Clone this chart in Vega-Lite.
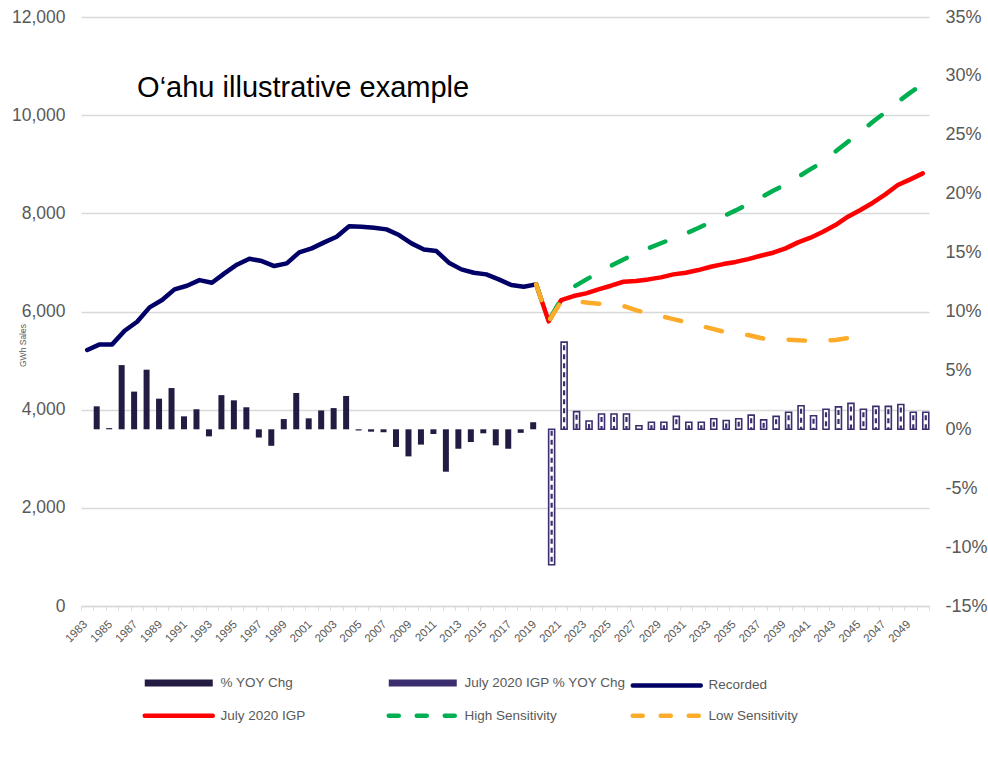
{
  "$schema": "https://vega.github.io/schema/vega-lite/v6.json",
  "width": 848,
  "height": 589,
  "autosize": "none",
  "padding": {"left": 81, "top": 17, "right": 59, "bottom": 175},
  "background": "white",
  "config": {
    "view": {"stroke": null},
    "font": "Liberation Sans",
    "axis": {"labelFont": "Liberation Sans", "titleFont": "Liberation Sans", "labelColor": "#595959"},
    "legend": {"labelFont": "Liberation Sans"}
  },
  "datasets": {
    "bars": [
      {"year": "1984", "series": "% YOY Chg", "pct": 0.0195},
      {"year": "1985", "series": "% YOY Chg", "pct": 0.001},
      {"year": "1986", "series": "% YOY Chg", "pct": 0.0545},
      {"year": "1987", "series": "% YOY Chg", "pct": 0.032},
      {"year": "1988", "series": "% YOY Chg", "pct": 0.0506},
      {"year": "1989", "series": "% YOY Chg", "pct": 0.026},
      {"year": "1990", "series": "% YOY Chg", "pct": 0.035},
      {"year": "1991", "series": "% YOY Chg", "pct": 0.011},
      {"year": "1992", "series": "% YOY Chg", "pct": 0.017},
      {"year": "1993", "series": "% YOY Chg", "pct": -0.006},
      {"year": "1994", "series": "% YOY Chg", "pct": 0.029},
      {"year": "1995", "series": "% YOY Chg", "pct": 0.0246},
      {"year": "1996", "series": "% YOY Chg", "pct": 0.0187},
      {"year": "1997", "series": "% YOY Chg", "pct": -0.007},
      {"year": "1998", "series": "% YOY Chg", "pct": -0.014},
      {"year": "1999", "series": "% YOY Chg", "pct": 0.0087},
      {"year": "2000", "series": "% YOY Chg", "pct": 0.0308},
      {"year": "2001", "series": "% YOY Chg", "pct": 0.0093},
      {"year": "2002", "series": "% YOY Chg", "pct": 0.016},
      {"year": "2003", "series": "% YOY Chg", "pct": 0.018},
      {"year": "2004", "series": "% YOY Chg", "pct": 0.0283},
      {"year": "2005", "series": "% YOY Chg", "pct": -0.001},
      {"year": "2006", "series": "% YOY Chg", "pct": -0.002},
      {"year": "2007", "series": "% YOY Chg", "pct": -0.0025},
      {"year": "2008", "series": "% YOY Chg", "pct": -0.015},
      {"year": "2009", "series": "% YOY Chg", "pct": -0.023},
      {"year": "2010", "series": "% YOY Chg", "pct": -0.013},
      {"year": "2011", "series": "% YOY Chg", "pct": -0.004},
      {"year": "2012", "series": "% YOY Chg", "pct": -0.036},
      {"year": "2013", "series": "% YOY Chg", "pct": -0.0165},
      {"year": "2014", "series": "% YOY Chg", "pct": -0.0108},
      {"year": "2015", "series": "% YOY Chg", "pct": -0.0034},
      {"year": "2016", "series": "% YOY Chg", "pct": -0.0136},
      {"year": "2017", "series": "% YOY Chg", "pct": -0.0165},
      {"year": "2018", "series": "% YOY Chg", "pct": -0.003},
      {"year": "2019", "series": "% YOY Chg", "pct": 0.006},
      {"year": "2020", "series": "July 2020 IGP % YOY Chg", "pct": -0.115},
      {"year": "2021", "series": "July 2020 IGP % YOY Chg", "pct": 0.074},
      {"year": "2022", "series": "July 2020 IGP % YOY Chg", "pct": 0.015},
      {"year": "2023", "series": "July 2020 IGP % YOY Chg", "pct": 0.007},
      {"year": "2024", "series": "July 2020 IGP % YOY Chg", "pct": 0.013},
      {"year": "2025", "series": "July 2020 IGP % YOY Chg", "pct": 0.013},
      {"year": "2026", "series": "July 2020 IGP % YOY Chg", "pct": 0.013},
      {"year": "2027", "series": "July 2020 IGP % YOY Chg", "pct": 0.003},
      {"year": "2028", "series": "July 2020 IGP % YOY Chg", "pct": 0.006},
      {"year": "2029", "series": "July 2020 IGP % YOY Chg", "pct": 0.006},
      {"year": "2030", "series": "July 2020 IGP % YOY Chg", "pct": 0.011},
      {"year": "2031", "series": "July 2020 IGP % YOY Chg", "pct": 0.006},
      {"year": "2032", "series": "July 2020 IGP % YOY Chg", "pct": 0.006},
      {"year": "2033", "series": "July 2020 IGP % YOY Chg", "pct": 0.009},
      {"year": "2034", "series": "July 2020 IGP % YOY Chg", "pct": 0.0075},
      {"year": "2035", "series": "July 2020 IGP % YOY Chg", "pct": 0.009},
      {"year": "2036", "series": "July 2020 IGP % YOY Chg", "pct": 0.012},
      {"year": "2037", "series": "July 2020 IGP % YOY Chg", "pct": 0.008},
      {"year": "2038", "series": "July 2020 IGP % YOY Chg", "pct": 0.011},
      {"year": "2039", "series": "July 2020 IGP % YOY Chg", "pct": 0.0145},
      {"year": "2040", "series": "July 2020 IGP % YOY Chg", "pct": 0.02},
      {"year": "2041", "series": "July 2020 IGP % YOY Chg", "pct": 0.0115},
      {"year": "2042", "series": "July 2020 IGP % YOY Chg", "pct": 0.017},
      {"year": "2043", "series": "July 2020 IGP % YOY Chg", "pct": 0.019},
      {"year": "2044", "series": "July 2020 IGP % YOY Chg", "pct": 0.022},
      {"year": "2045", "series": "July 2020 IGP % YOY Chg", "pct": 0.017},
      {"year": "2046", "series": "July 2020 IGP % YOY Chg", "pct": 0.0195},
      {"year": "2047", "series": "July 2020 IGP % YOY Chg", "pct": 0.0195},
      {"year": "2048", "series": "July 2020 IGP % YOY Chg", "pct": 0.021},
      {"year": "2049", "series": "July 2020 IGP % YOY Chg", "pct": 0.0145},
      {"year": "2050", "series": "July 2020 IGP % YOY Chg", "pct": 0.0145}
    ],
    "lines": [
      {"year": "1983", "series": "Recorded", "gwh": 5215},
      {"year": "1984", "series": "Recorded", "gwh": 5330},
      {"year": "1985", "series": "Recorded", "gwh": 5330},
      {"year": "1986", "series": "Recorded", "gwh": 5608},
      {"year": "1987", "series": "Recorded", "gwh": 5791},
      {"year": "1988", "series": "Recorded", "gwh": 6084},
      {"year": "1989", "series": "Recorded", "gwh": 6233},
      {"year": "1990", "series": "Recorded", "gwh": 6451},
      {"year": "1991", "series": "Recorded", "gwh": 6525},
      {"year": "1992", "series": "Recorded", "gwh": 6640},
      {"year": "1993", "series": "Recorded", "gwh": 6586},
      {"year": "1994", "series": "Recorded", "gwh": 6777},
      {"year": "1995", "series": "Recorded", "gwh": 6953},
      {"year": "1996", "series": "Recorded", "gwh": 7075},
      {"year": "1997", "series": "Recorded", "gwh": 7028},
      {"year": "1998", "series": "Recorded", "gwh": 6926},
      {"year": "1999", "series": "Recorded", "gwh": 6981},
      {"year": "2000", "series": "Recorded", "gwh": 7205},
      {"year": "2001", "series": "Recorded", "gwh": 7286},
      {"year": "2002", "series": "Recorded", "gwh": 7408},
      {"year": "2003", "series": "Recorded", "gwh": 7523},
      {"year": "2004", "series": "Recorded", "gwh": 7735},
      {"year": "2005", "series": "Recorded", "gwh": 7727},
      {"year": "2006", "series": "Recorded", "gwh": 7707},
      {"year": "2007", "series": "Recorded", "gwh": 7673},
      {"year": "2008", "series": "Recorded", "gwh": 7557},
      {"year": "2009", "series": "Recorded", "gwh": 7388},
      {"year": "2010", "series": "Recorded", "gwh": 7265},
      {"year": "2011", "series": "Recorded", "gwh": 7231},
      {"year": "2012", "series": "Recorded", "gwh": 6994},
      {"year": "2013", "series": "Recorded", "gwh": 6858},
      {"year": "2014", "series": "Recorded", "gwh": 6790},
      {"year": "2015", "series": "Recorded", "gwh": 6756},
      {"year": "2016", "series": "Recorded", "gwh": 6654},
      {"year": "2017", "series": "Recorded", "gwh": 6539},
      {"year": "2018", "series": "Recorded", "gwh": 6505},
      {"year": "2019", "series": "Recorded", "gwh": 6553},
      {"year": "2019", "series": "July 2020 IGP", "gwh": 6553},
      {"year": "2020", "series": "July 2020 IGP", "gwh": 5800},
      {"year": "2021", "series": "July 2020 IGP", "gwh": 6233},
      {"year": "2022", "series": "July 2020 IGP", "gwh": 6315},
      {"year": "2023", "series": "July 2020 IGP", "gwh": 6369},
      {"year": "2024", "series": "July 2020 IGP", "gwh": 6451},
      {"year": "2025", "series": "July 2020 IGP", "gwh": 6525},
      {"year": "2026", "series": "July 2020 IGP", "gwh": 6606},
      {"year": "2027", "series": "July 2020 IGP", "gwh": 6620},
      {"year": "2028", "series": "July 2020 IGP", "gwh": 6654},
      {"year": "2029", "series": "July 2020 IGP", "gwh": 6695},
      {"year": "2030", "series": "July 2020 IGP", "gwh": 6756},
      {"year": "2031", "series": "July 2020 IGP", "gwh": 6790},
      {"year": "2032", "series": "July 2020 IGP", "gwh": 6844},
      {"year": "2033", "series": "July 2020 IGP", "gwh": 6912},
      {"year": "2034", "series": "July 2020 IGP", "gwh": 6966},
      {"year": "2035", "series": "July 2020 IGP", "gwh": 7010},
      {"year": "2036", "series": "July 2020 IGP", "gwh": 7068},
      {"year": "2037", "series": "July 2020 IGP", "gwh": 7136},
      {"year": "2038", "series": "July 2020 IGP", "gwh": 7197},
      {"year": "2039", "series": "July 2020 IGP", "gwh": 7286},
      {"year": "2040", "series": "July 2020 IGP", "gwh": 7408},
      {"year": "2041", "series": "July 2020 IGP", "gwh": 7503},
      {"year": "2042", "series": "July 2020 IGP", "gwh": 7625},
      {"year": "2043", "series": "July 2020 IGP", "gwh": 7761},
      {"year": "2044", "series": "July 2020 IGP", "gwh": 7931},
      {"year": "2045", "series": "July 2020 IGP", "gwh": 8067},
      {"year": "2046", "series": "July 2020 IGP", "gwh": 8216},
      {"year": "2047", "series": "July 2020 IGP", "gwh": 8387},
      {"year": "2048", "series": "July 2020 IGP", "gwh": 8576},
      {"year": "2049", "series": "July 2020 IGP", "gwh": 8692},
      {"year": "2050", "series": "July 2020 IGP", "gwh": 8814},
      {"year": "2019", "series": "High Sensitivity", "gwh": 6553},
      {"year": "2020", "series": "High Sensitivity", "gwh": 5800},
      {"year": "2021", "series": "High Sensitivity", "gwh": 6260},
      {"year": "2022", "series": "High Sensitivity", "gwh": 6500},
      {"year": "2023", "series": "High Sensitivity", "gwh": 6650},
      {"year": "2024", "series": "High Sensitivity", "gwh": 6790},
      {"year": "2025", "series": "High Sensitivity", "gwh": 6930},
      {"year": "2026", "series": "High Sensitivity", "gwh": 7060},
      {"year": "2027", "series": "High Sensitivity", "gwh": 7180},
      {"year": "2028", "series": "High Sensitivity", "gwh": 7290},
      {"year": "2029", "series": "High Sensitivity", "gwh": 7390},
      {"year": "2030", "series": "High Sensitivity", "gwh": 7490},
      {"year": "2031", "series": "High Sensitivity", "gwh": 7590},
      {"year": "2032", "series": "High Sensitivity", "gwh": 7700},
      {"year": "2033", "series": "High Sensitivity", "gwh": 7820},
      {"year": "2034", "series": "High Sensitivity", "gwh": 7940},
      {"year": "2035", "series": "High Sensitivity", "gwh": 8060},
      {"year": "2036", "series": "High Sensitivity", "gwh": 8190},
      {"year": "2037", "series": "High Sensitivity", "gwh": 8320},
      {"year": "2038", "series": "High Sensitivity", "gwh": 8460},
      {"year": "2039", "series": "High Sensitivity", "gwh": 8590},
      {"year": "2040", "series": "High Sensitivity", "gwh": 8740},
      {"year": "2041", "series": "High Sensitivity", "gwh": 8900},
      {"year": "2042", "series": "High Sensitivity", "gwh": 9050},
      {"year": "2043", "series": "High Sensitivity", "gwh": 9260},
      {"year": "2044", "series": "High Sensitivity", "gwh": 9460},
      {"year": "2045", "series": "High Sensitivity", "gwh": 9660},
      {"year": "2046", "series": "High Sensitivity", "gwh": 9865},
      {"year": "2047", "series": "High Sensitivity", "gwh": 10060},
      {"year": "2048", "series": "High Sensitivity", "gwh": 10270},
      {"year": "2049", "series": "High Sensitivity", "gwh": 10460},
      {"year": "2050", "series": "High Sensitivity", "gwh": 10630},
      {"year": "2019", "series": "Low Sensitivity", "gwh": 6553},
      {"year": "2020", "series": "Low Sensitivity", "gwh": 5800},
      {"year": "2021", "series": "Low Sensitivity", "gwh": 6200},
      {"year": "2022", "series": "Low Sensitivity", "gwh": 6210},
      {"year": "2023", "series": "Low Sensitivity", "gwh": 6185},
      {"year": "2024", "series": "Low Sensitivity", "gwh": 6160},
      {"year": "2025", "series": "Low Sensitivity", "gwh": 6135},
      {"year": "2026", "series": "Low Sensitivity", "gwh": 6111},
      {"year": "2027", "series": "Low Sensitivity", "gwh": 6030},
      {"year": "2028", "series": "Low Sensitivity", "gwh": 5955},
      {"year": "2029", "series": "Low Sensitivity", "gwh": 5905},
      {"year": "2030", "series": "Low Sensitivity", "gwh": 5845},
      {"year": "2031", "series": "Low Sensitivity", "gwh": 5785},
      {"year": "2032", "series": "Low Sensitivity", "gwh": 5720},
      {"year": "2033", "series": "Low Sensitivity", "gwh": 5655},
      {"year": "2034", "series": "Low Sensitivity", "gwh": 5590},
      {"year": "2035", "series": "Low Sensitivity", "gwh": 5552},
      {"year": "2036", "series": "Low Sensitivity", "gwh": 5520},
      {"year": "2037", "series": "Low Sensitivity", "gwh": 5460},
      {"year": "2038", "series": "Low Sensitivity", "gwh": 5418},
      {"year": "2039", "series": "Low Sensitivity", "gwh": 5428},
      {"year": "2040", "series": "Low Sensitivity", "gwh": 5415},
      {"year": "2041", "series": "Low Sensitivity", "gwh": 5400},
      {"year": "2042", "series": "Low Sensitivity", "gwh": 5400},
      {"year": "2043", "series": "Low Sensitivity", "gwh": 5420},
      {"year": "2044", "series": "Low Sensitivity", "gwh": 5460},
      {"year": "2045", "series": "Low Sensitivity", "gwh": 5500}
    ]
  },
  "layer": [
    {
      "data": {"name": "bars"},
      "layer": [
        {
          "transform": [{"filter": "datum.series == '% YOY Chg'"}],
          "mark": {"type": "bar"},
          "encoding": {
            "x": {"field": "year", "type": "ordinal", "scale": {"paddingInner": 0, "paddingOuter": 0},
              "axis": {"title": null, "labelAngle": -45, "labelAlign": "right", "labelBaseline": "top", "labelFontSize": 11.5, "labelPadding": 8, "labelOffset": -6,
                "labelExpr": "parseInt(datum.value) % 2 == 1 ? datum.value : ''", "tickBand": "extent", "ticks": true, "tickSize": 4, "tickColor": "#d9d9d9",
                "domainColor": "#d9d9d9", "domainWidth": 1.5, "grid": false}},
            "xOffset": {"field": "series", "type": "nominal", "scale": {"domain": ["% YOY Chg", "July 2020 IGP % YOY Chg"], "paddingInner": 0, "paddingOuter": 0.04}},
            "y": {"field": "pct", "type": "quantitative", "scale": {"domain": [-0.15, 0.35], "nice": false, "zero": false},
              "axis": {"orient": "right", "title": null, "values": [-0.15, -0.1, -0.05, 0, 0.05, 0.1, 0.15, 0.2, 0.25, 0.3, 0.35],
                "labelExpr": "round(datum.value * 100) + '%'", "grid": false, "ticks": false, "domain": false, "labelPadding": 16, "labelFontSize": 18, "labelAlign": "left"}},
            "color": {"field": "series", "type": "nominal",
              "scale": {"domain": ["% YOY Chg", "July 2020 IGP % YOY Chg", "Recorded", "July 2020 IGP", "High Sensitivity", "Low Sensitivity"],
                        "range": ["#231b42", "#3b2d6e", "#000066", "#ff0000", "#00b050", "#fcab2a"]},
              "legend": {
                "title": null, "orient": "none", "legendX": 91, "legendY": 659, "direction": "horizontal", "columns": 3,
                "gridAlign": "all", "columnPadding": -8, "rowPadding": 9, "symbolType": "stroke", "symbolSize": 4624,
                "symbolStrokeWidth": 4.5, "labelFontSize": 13.5, "labelColor": "#595959", "labelOffset": 35, "labelLimit": 300,
                "encode": {"symbols": {"update": {
                  "stroke": {"scale": "color", "field": "value"},
                  "strokeWidth": {"signal": "(datum.value == '% YOY Chg' || datum.value == 'July 2020 IGP % YOY Chg') ? 7 : 4.5"},
                  "strokeCap": {"signal": "(datum.value == '% YOY Chg' || datum.value == 'July 2020 IGP % YOY Chg') ? 'butt' : 'round'"},
                  "strokeDash": {"signal": "(datum.value == 'High Sensitivity' || datum.value == 'Low Sensitivity') ? [10, 18] : [1, 0]"}
                }}}
              }}
          }
        },
        {
          "transform": [{"filter": "datum.series == 'July 2020 IGP % YOY Chg'"}],
          "mark": {"type": "bar", "fill": "#ffffff", "stroke": "#3b2d6e", "strokeWidth": 1.6},
          "encoding": {
            "x": {"field": "year", "type": "ordinal"},
            "xOffset": {"field": "series", "type": "nominal", "scale": {"domain": ["% YOY Chg", "July 2020 IGP % YOY Chg"], "paddingInner": 0, "paddingOuter": 0.04}},
            "y": {"field": "pct", "type": "quantitative"}
          }
        },
        {
          "transform": [{"filter": "datum.series == 'July 2020 IGP % YOY Chg'"}],
          "mark": {"type": "rule", "stroke": "#3b2d6e", "strokeWidth": 2.2, "strokeDash": [5, 4], "strokeDashOffset": -3},
          "encoding": {
            "x": {"field": "year", "type": "ordinal"},
            "xOffset": {"field": "series", "type": "nominal", "scale": {"domain": ["% YOY Chg", "July 2020 IGP % YOY Chg"], "paddingInner": 0, "paddingOuter": 0.04}},
            "y": {"field": "pct", "type": "quantitative"},
            "y2": {"datum": 0}
          }
        }
      ]
    },
    {
      "data": {"name": "lines"},
      "layer": [
        {
          "transform": [{"filter": "datum.series == 'Recorded' || datum.series == 'July 2020 IGP'"}],
          "mark": {"type": "line", "strokeWidth": 4.5, "strokeCap": "round", "strokeJoin": "round"},
          "encoding": {
            "x": {"field": "year", "type": "ordinal"},
            "y": {"field": "gwh", "type": "quantitative", "scale": {"domain": [0, 12000], "nice": false},
              "axis": {"orient": "left", "values": [0, 2000, 4000, 6000, 8000, 10000, 12000], "format": ",.0f", "grid": true, "gridColor": "#d9d9d9", "gridWidth": 1.5,
                "ticks": false, "domain": false, "labelPadding": 16, "labelFontSize": 17.5,
                "title": "GWh Sales", "titleFontSize": 8.5, "titleFontWeight": "normal", "titleColor": "#595959",
                "titleX": -59, "titleY": 328, "titleAlign": "center", "titleBaseline": "middle", "titleAngle": -90}},
            "color": {"field": "series", "type": "nominal"},
            "detail": {"field": "series"}
          }
        },
        {
          "transform": [{"filter": "datum.series == 'High Sensitivity' || datum.series == 'Low Sensitivity'"}],
          "mark": {"type": "line", "strokeWidth": 4.5, "strokeCap": "round", "strokeJoin": "round", "strokeDash": [16.5, 25.5]},
          "encoding": {
            "x": {"field": "year", "type": "ordinal"},
            "y": {"field": "gwh", "type": "quantitative"},
            "color": {"field": "series", "type": "nominal"},
            "detail": {"field": "series"}
          }
        },
        {
          "data": {"values": [{}]},
          "mark": {"type": "text", "text": "O\u2018ahu illustrative example", "align": "left", "baseline": "alphabetic", "fontSize": 29, "color": "#000000", "font": "Liberation Sans"},
          "encoding": {
            "x": {"datum": "1987", "type": "ordinal"},
            "y": {"datum": 10375, "type": "quantitative"}
          }
        }
      ]
    }
  ],
  "resolve": {"scale": {"y": "independent"}}
}
